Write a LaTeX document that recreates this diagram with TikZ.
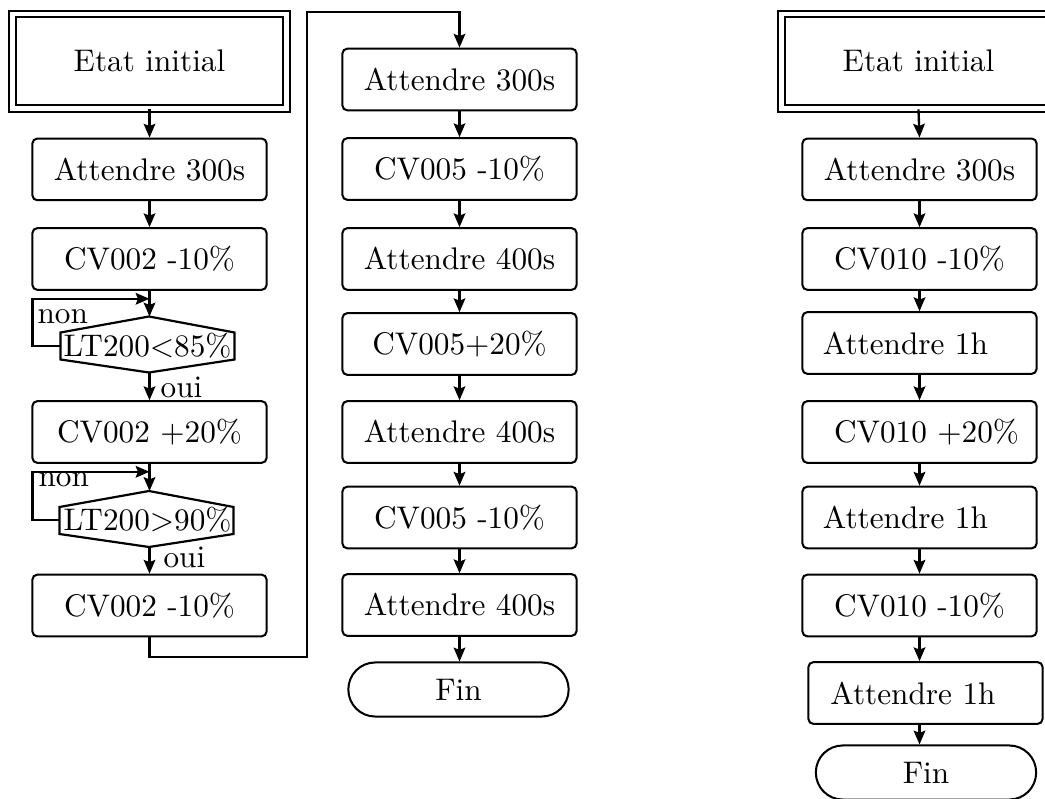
\documentclass[tikz,border=0pt]{standalone}
\usetikzlibrary{arrows.meta,calc}
\tikzset{
  box/.style={draw, line width=0.65pt, rounded corners=1.5pt, minimum width=74.9pt, minimum height=19.7pt, inner sep=0pt},
  startbox/.style={draw, line width=0.6pt, double, double distance=1.5pt, minimum width=87.6pt, minimum height=30.3pt, inner sep=0pt},
  finbox/.style={draw, line width=0.65pt, rounded corners=8.6pt, minimum width=70.5pt, minimum height=17.3pt, inner sep=0pt},
  condtext/.style={inner sep=0pt},
  hexline/.style={line width=0.7pt},
  lbl/.style={inner sep=0pt, anchor=base west},
  arr/.style={line width=0.75pt, -{Stealth[length=4.4pt,width=3.7pt,inset=0.7pt]}},
  con/.style={line width=0.75pt},
}
\begin{document}
\begin{tikzpicture}[x=0.32pt,y=-0.32pt]
\useasboundingbox (0,0) rectangle (1045,799);

% ---------- left column ----------
\node[startbox] (e1) at (149.5,61.2) {Etat initial};
\node[box] (a1) at (149.5,169.4) {Attendre 300s};
\node[box] (c1) at (149.5,259) {CV002 -10\%};
\node[condtext] (h1) at (147.5,345.5) {LT200<85\%};
\node[box] (c2) at (149.5,432) {CV002 +20\%};
\node[condtext] (h2) at (147.5,520) {LT200>90\%};
\node[box] (c3) at (149.5,605.5) {CV002 -10\%};

\coordinate (h1n) at ($(h1)+(1.5,-29)$);
\coordinate (h1s) at ($(h1)+(1.5,27)$);
\coordinate (h1w) at ($(h1)+(-87,0.5)$);
\coordinate (h2n) at ($(h2)+(1.5,-29)$);
\coordinate (h2s) at ($(h2)+(1.5,27)$);
\coordinate (h2w) at ($(h2)+(-88,0)$);

\draw[hexline] ($(h1)+(-87,-13)$) -- (h1n) -- ($(h1)+(87,-13)$) -- ($(h1)+(87,14)$)
  -- (h1s) -- ($(h1)+(-87,14)$) -- cycle;
\draw[hexline] ($(h2)+(-88,-13)$) -- (h2n) -- ($(h2)+(86,-13)$) -- ($(h2)+(86,14)$)
  -- (h2s) -- ($(h2)+(-88,14)$) -- cycle;

\node[lbl] (non1) at (37,323) {non};
\node[lbl] (oui1) at (160,397) {oui};
\node[lbl] (non2) at (38,487) {non};
\node[lbl] (oui2) at (163,567) {oui};

\draw[arr] (e1.south) -- (a1.north);
\draw[arr] (a1.south) -- (c1.north);
\draw[arr] (c1.south) -- (c1.south |- h1n);
\draw[arr] (h1w) -- ++(-28,0) |- ($(c1.south)+(0,8)$);
\draw[arr] (c1.south |- h1s) -- (c2.north);
\draw[arr] (c2.south) -- (c2.south |- h2n);
\draw[arr] (h2w) -- ++(-27,0) |- ($(c2.south)+(0,8)$);
\draw[arr] (c2.south |- h2s) -- (c3.north);

% ---------- middle column ----------
\node[box] (m1) at (459.5,79.5) {Attendre 300s};
\node[box] (m2) at (459.5,169) {CV005 -10\%};
\node[box] (m3) at (459.5,259) {Attendre 400s};
\node[box] (m4) at (459.5,344) {CV005+20\%};
\node[box] (m5) at (459.5,432) {Attendre 400s};
\node[box] (m6) at (459.5,517.5) {CV005 -10\%};
\node[box] (m7) at (459.5,605) {Attendre 400s};
\node[finbox] (f1) at (458.5,689.5) {Fin};

\coordinate (turnA) at (149.5,657);
\coordinate (turnB) at (307,12);
\draw[arr] (c3.south) -- (turnA) -| (turnB) -| (m1.north);

\draw[arr] (m1) -- (m2);
\draw[arr] (m2) -- (m3);
\draw[arr] (m3) -- (m4);
\draw[arr] (m4) -- (m5);
\draw[arr] (m5) -- (m6);
\draw[arr] (m6) -- (m7);
\draw[arr] (m7.south) -- (m7.south |- f1.north);

% ---------- right column ----------
\node[startbox] (r0) at (918.5,61.2) {Etat initial};
\node[box] (r1) at (919.5,169.4) {Attendre 300s};
\node[box] (r2) at (919.5,259) {CV010 -10\%};
\node[box] (r3) at (919.5,343) {Attendre 1h\kern9pt};
\node[box] (r4) at (919.5,432) {\kern4.5pt CV010 +20\%};
\node[box] (r5) at (919.5,517.5) {Attendre 1h\kern9pt};
\node[box] (r6) at (919.5,605.5) {CV010 -10\%};
\node[box] (r7) at (925.5,693) {Attendre 1h\kern8pt};
\node[finbox] (f2) at (926,772.5) {Fin};

\draw[arr] (r0.south) -- (r1.north);
\draw[arr] (r1) -- (r2);
\draw[arr] (r2) -- (r3);
\draw[arr] (r3) -- (r4);
\draw[arr] (r4) -- (r5);
\draw[arr] (r5) -- (r6);
\draw[arr] (r6.south) -- (r6.south |- r7.north);
\draw[arr] (r6.south |- r7.south) -- (r6.south |- f2.north);
\end{tikzpicture}
\end{document}
